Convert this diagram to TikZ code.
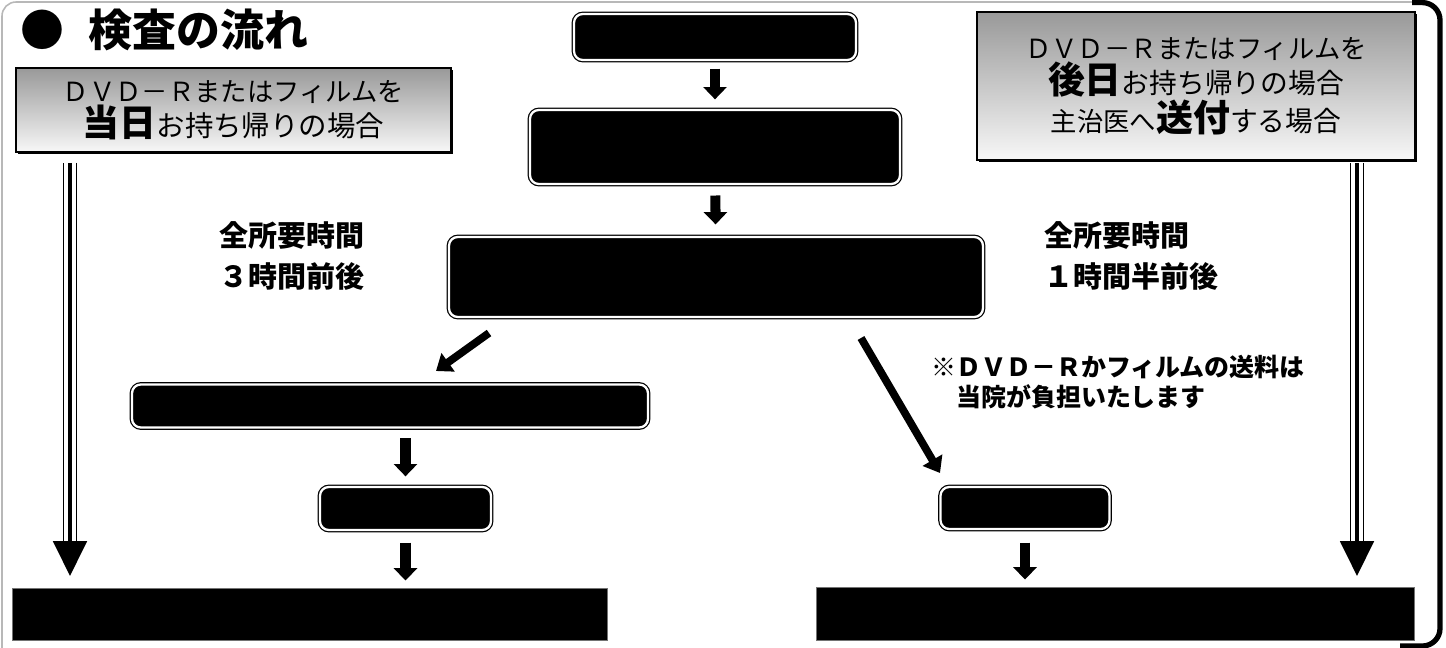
\documentclass[tikz,border=0pt]{standalone}
\usepackage{fontspec}
\newfontfamily\jpfont{Noto Sans CJK JP}
\usetikzlibrary{arrows.meta, shadows}

\tikzset{
    stepbox/.style={draw=black, line width=0.7pt, double=white, double distance=1.3pt,
        fill=black, rounded corners=5pt, inner sep=0pt},
    endbar/.style={draw=black!55, line width=0.5pt, fill=black, inner sep=0pt},
    casebox/.style={draw=black, line width=1.5pt, top color=black!40, bottom color=black!3,
        drop shadow={shadow xshift=1.3pt, shadow yshift=-1.3pt, fill=black, opacity=1},
        align=center, inner sep=0pt, font=\jpfont},
    blockarrow/.style={line width=5.7pt, -{Triangle[width=13pt, length=7pt]}},
    slantarrow/.style={line width=4.4pt, -{Triangle[width=12.5pt, length=8.5pt]}},
    railouter/.style={line width=0.9pt, double=white, double distance=6.6pt},
    railinner/.style={line width=2pt, -{Triangle[width=19pt, length=19.8pt]}},
    timetext/.style={font=\jpfont\bfseries\fontsize{16.5pt}{23.8pt}\selectfont, inner sep=0pt},
    notetext/.style={font=\jpfont\bfseries\fontsize{14.2pt}{17pt}\selectfont, inner sep=0pt},
    titletext/.style={font=\jpfont\bfseries\fontsize{25pt}{30pt}\selectfont, inner sep=0pt}
}

\begin{document}
\begin{tikzpicture}[x=0.02cm, y=-0.02cm]

    % Define parameters for easy adjustment
    \def\pxw{0.02cm}   % one pixel of the sheet

    \useasboundingbox (0,0) rectangle (1446,648);

    % 1. Sheet frame: thin grey top and left, heavy black right side
    \draw[black!28, line width=0.9pt, rounded corners=8pt] (2,660) -- (2,2) -- (1425,2);
    \draw[line width=3pt, rounded corners=10pt] (1412,2.6) -- (1440,2.6) -- (1440,646) -- (1400,646);

    % 2. Title
    \node[titletext, anchor=west] (title) at (20,30) {●\hspace{0.55em}検査の流れ};

    % 3. The two ways of taking the images home
    \node[casebox, minimum width=435*\pxw, minimum height=84*\pxw] (sameday) at (233.5,110)
        {{\fontsize{15pt}{22.7pt}\selectfont ＤＶＤ－Ｒまたはフィルムを}\\
         {\fontsize{21pt}{22.7pt}\selectfont\bfseries 当日}{\fontsize{16.2pt}{22.7pt}\selectfont お持ち帰りの場合}};
    \node[casebox, minimum width=438*\pxw, minimum height=148*\pxw] (laterday) at (1196,86)
        {{\fontsize{15pt}{20.5pt}\selectfont ＤＶＤ－Ｒまたはフィルムを}\\
         {\fontsize{21pt}{20.5pt}\selectfont\bfseries 後日}{\fontsize{15.8pt}{20.5pt}\selectfont お持ち帰りの場合}\\
         {\fontsize{15pt}{20.5pt}\selectfont 主治医へ}{\fontsize{21pt}{20.5pt}\selectfont\bfseries 送付}{\fontsize{15.8pt}{20.5pt}\selectfont する場合}};

    % 4. Steps (blank black plates)
    \node[stepbox, minimum width=282*\pxw, minimum height=46*\pxw] (s1) at (715,37) {};
    \node[stepbox, minimum width=370*\pxw, minimum height=74*\pxw] (s2) at (715,147) {};
    \node[stepbox, minimum width=534*\pxw, minimum height=80*\pxw] (s3) at (716,277) {};
    \node[stepbox, minimum width=516*\pxw, minimum height=43*\pxw] (s4) at (390,406) {};
    \node[stepbox, minimum width=171*\pxw, minimum height=43*\pxw] (s5) at (405.5,508.5) {};
    \node[stepbox, minimum width=169*\pxw, minimum height=42*\pxw] (s6) at (1025,508) {};
    \node[endbar, minimum width=595*\pxw, minimum height=52*\pxw] (lend) at (309.5,614) {};
    \node[endbar, minimum width=598*\pxw, minimum height=53*\pxw] (rend) at (1115.5,613.5) {};

    % 5. Texts
    \node[timetext, align=center] (ltime) at (292,256) {全所要時間\\３時間前後};
    \node[timetext, align=left, anchor=west] (rtime) at (1044,256) {全所要時間\\１時間半前後};
    \node[notetext, align=left, anchor=north west] (note) at (931,355)
        {※ＤＶＤ－Ｒかフィルムの送料は\\　当院が負担いたします};

    % 6. Arrows between the steps
    \draw[blockarrow, shorten <=4.5pt, shorten >=5.7pt] (s1) -- (s2);
    \draw[blockarrow, shorten <=6.2pt, shorten >=6.8pt] (s2) -- (s3);
    \draw[blockarrow, shorten <=5.7pt, shorten >=5.7pt] (s4.south -| s5.north) -- (s5.north);
    \draw[blockarrow, shorten <=6.8pt, shorten >=4pt] (s5.south) -- (s5.south |- lend.north);
    \draw[blockarrow, shorten <=7.4pt, shorten >=4pt] (s6.south) -- (s6.south |- rend.north);

    \coordinate (lslant0) at (489,333);
    \coordinate (lslant1) at (436,371);
    \coordinate (rslant0) at (861,338);
    \coordinate (rslant1) at (940,473);
    \draw[slantarrow] (lslant0) -- (lslant1);
    \draw[slantarrow] (rslant0) -- (rslant1);

    % 7. Long rail arrows down both sides
    \coordinate (lrail0) at (70,163);
    \coordinate (lrail1) at (70,576);
    \coordinate (rrail0) at (1357,163);
    \coordinate (rrail1) at (1357,576);
    \draw[railouter, shorten >=18.5pt] (lrail0) -- (lrail1);
    \draw[railinner] (lrail0) -- (lrail1);
    \draw[railouter, shorten >=18.5pt] (rrail0) -- (rrail1);
    \draw[railinner] (rrail0) -- (rrail1);
\end{tikzpicture}
\end{document}
